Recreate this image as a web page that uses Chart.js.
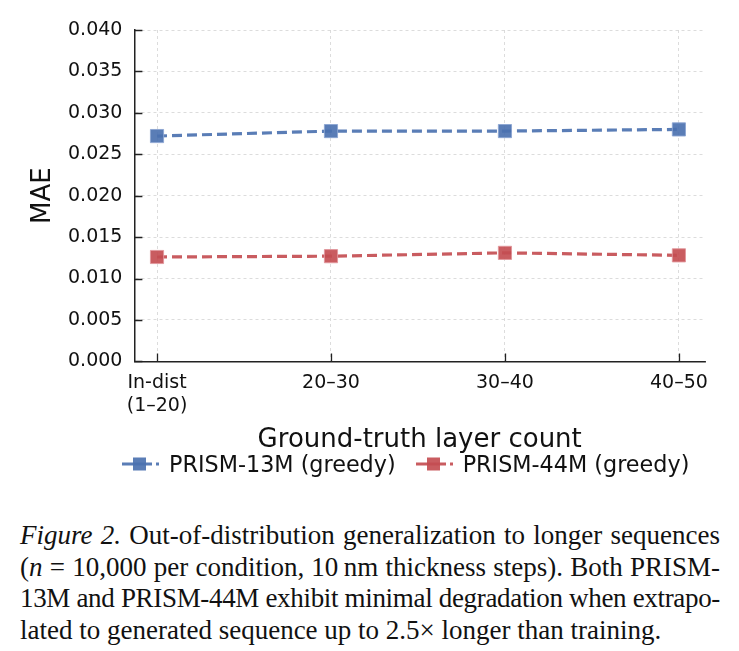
<!DOCTYPE html>
<html>
<head>
<meta charset="utf-8">
<script src="https://cdn.jsdelivr.net/npm/chart.js"></script>
<style>
  html, body { margin: 0; padding: 0; background: #fff; }
  #wrap { position: relative; width: 739px; height: 490px; }
  #legend {
    position: absolute; left: 122px; top: 451px; display: flex; align-items: center;
    font-family: "DejaVu Sans", sans-serif; font-size: 22.3px; color: #111; white-space: nowrap;
  }
  #legend .item { display: flex; align-items: center; margin-right: 20px; }
  #legend canvas { margin-right: 10px; }
  #caption {
    position: absolute; left: 20px; top: 520px; width: 700px;
    font-family: "Liberation Serif", serif; font-size: 27px; line-height: 31.5px; color: #111;
  }
  #caption .ln { white-space: nowrap; }
</style>
</head>
<body>
<div id="wrap"><canvas id="chart"></canvas><div id="legend"></div></div>
<div id="caption">
  <div class="ln fit"><span><i>Figure 2.</i> Out-of-distribution generalization to longer sequences</span></div>
  <div class="ln fit"><span>(<i>n</i> = 10,000 per condition, 10&#8201;nm thickness steps). Both PRISM-</span></div>
  <div class="ln fit"><span>13M and PRISM-44M exhibit minimal degradation when extrapo-</span></div>
  <div class="ln"><span>lated to generated sequence up to 2.5× longer than training.</span></div>
</div>
<script>
// categories along x
const categories = [['In-dist', '(1–20)'], '20–30', '30–40', '40–50'];
// MAE per condition
const prism13 = [0.0272, 0.0278, 0.0278, 0.0280];
const prism44 = [0.0126, 0.0127, 0.0131, 0.0128];
const seriesNames = ['PRISM-13M (greedy)', 'PRISM-44M (greedy)'];
const yTicks = [0, 0.005, 0.01, 0.015, 0.02, 0.025, 0.03, 0.035, 0.04];

const blue = 'rgba(76,114,176,0.92)';
const red = 'rgba(196,78,82,0.92)';
const colors = [blue, red];
const edges = ['rgba(140,165,210,0.9)', 'rgba(225,150,155,0.9)'];
const FONT = 'DejaVu Sans';

// legend swatch: dashed line + square marker
function swatch(color) {
  const c = document.createElement('canvas');
  c.width = 37; c.height = 16;
  const g = c.getContext('2d');
  g.strokeStyle = color; g.lineWidth = 3; g.setLineDash([30, 4, 3, 4]);
  g.beginPath(); g.moveTo(0, 8); g.lineTo(37, 8); g.stroke();
  g.fillStyle = color; g.fillRect(11, 1.5, 13, 13);
  return c;
}

const legendEl = document.getElementById('legend');
seriesNames.forEach((name, i) => {
  const item = document.createElement('div');
  item.className = 'item';
  item.appendChild(swatch(colors[i]));
  const t = document.createElement('span');
  t.textContent = name;
  item.appendChild(t);
  legendEl.appendChild(item);
});

// justify the caption lines to the column width
document.querySelectorAll('#caption .fit span').forEach(s => {
  const w = s.getBoundingClientRect().width;
  const txt = s.textContent;
  if (w <= 700) {
    const n = (txt.match(/ /g) || []).length;
    s.parentNode.style.wordSpacing = ((700 - w) / n) + 'px';
  } else {
    s.parentNode.style.letterSpacing = ((700 - w) / txt.length) + 'px';
  }
});

const toPts = arr => arr.map((v, i) => ({ x: i, y: v }));

// ticks pointing into the plot
const innerTicks = {
  id: 'innerTicks',
  afterDraw(chart) {
    const { ctx, chartArea: a, scales } = chart;
    ctx.save();
    ctx.strokeStyle = '#222'; ctx.lineWidth = 1.3;
    ctx.beginPath();
    scales.y.ticks.forEach(t => {
      const y = Math.round(scales.y.getPixelForValue(t.value)) + 0.5;
      ctx.moveTo(a.left, y); ctx.lineTo(a.left + 8, y);
    });
    scales.x.ticks.forEach(t => {
      const x = Math.round(scales.x.getPixelForValue(t.value)) + 0.5;
      ctx.moveTo(x, a.bottom); ctx.lineTo(x, a.bottom - 8);
    });
    ctx.stroke();
    ctx.restore();
  }
};

new Chart(document.getElementById('chart'), {
  type: 'line',
  data: {
    datasets: [0, 1].map(i => ({
      label: seriesNames[i], data: toPts(i ? prism44 : prism13),
      borderColor: colors[i], backgroundColor: colors[i],
      borderWidth: 3.2, borderDash: [10, 5], pointStyle: 'rect', pointRadius: 9.3, pointHoverRadius: 9.3,
      pointBorderWidth: 1, pointBorderColor: edges[i]
    }))
  },
  options: {
    responsive: true,
    maintainAspectRatio: false,
    animation: false,
    layout: { padding: { left: 30, right: 34, top: 30, bottom: 35 } },
    plugins: { tooltip: { enabled: false }, legend: { display: false } },
    scales: {
      x: {
        type: 'linear',
        min: -0.13, max: 3.15,
        afterBuildTicks: s => { s.ticks = categories.map((c, i) => ({ value: i })); },
        grid: { color: '#d4d4d4', lineWidth: 0.8, drawTicks: false },
        border: { color: '#222', width: 1.5, dash: [3, 3] },
        ticks: {
          padding: 10, color: '#111', maxRotation: 0,
          font: { family: FONT, size: 19 },
          callback: v => categories[v]
        },
        title: { display: true, text: 'Ground-truth layer count', color: '#111',
                 font: { family: FONT, size: 26, lineHeight: 1 }, padding: { top: 0, bottom: 2 } }
      },
      y: {
        min: 0, max: 0.04,
        afterBuildTicks: s => { s.ticks = yTicks.map(v => ({ value: v })); },
        grid: { color: '#d4d4d4', lineWidth: 0.8, drawTicks: false },
        border: { color: '#222', width: 1.5, dash: [3, 3] },
        ticks: { padding: 12, color: '#111', font: { family: FONT, size: 19 },
                 callback: v => v.toFixed(3) },
        title: { display: true, text: 'MAE', color: '#111',
                 font: { family: FONT, size: 26, lineHeight: 1 }, padding: { top: 0, bottom: 0 } }
      }
    }
  },
  plugins: [innerTicks]
});
</script>
</body>
</html>
